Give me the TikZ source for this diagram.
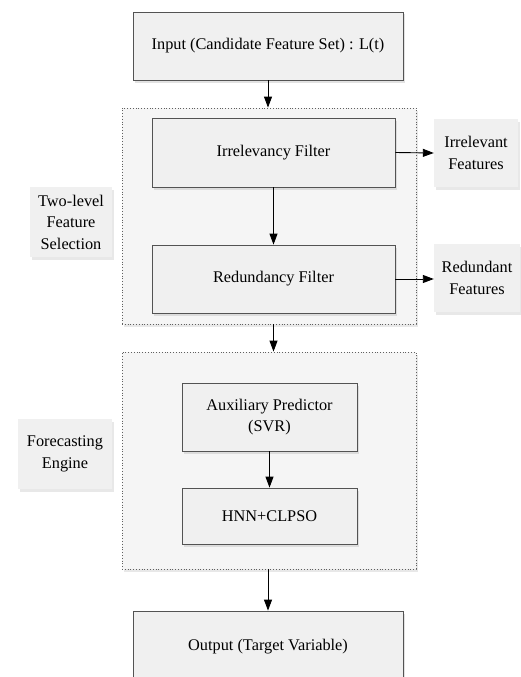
\documentclass[tikz,border=0pt]{standalone}
\usepackage{fontspec}
\setmainfont{Liberation Serif}
\usetikzlibrary{arrows.meta,shadows,positioning,calc}
\tikzset{
  boxstyle/.style={draw=gray!65!black, line width=0.8pt, fill=gray!12, inner sep=0pt,
    align=center, font=\fontsize{16.3}{21.5}\selectfont,
    drop shadow={shadow xshift=2pt, shadow yshift=-2.5pt, fill=gray!50, opacity=0.45}},
  sidebox/.style={fill=gray!12, inner sep=0pt, align=center, font=\fontsize{16.3}{21.5}\selectfont,
    drop shadow={shadow xshift=2pt, shadow yshift=-2.5pt, fill=gray!50, opacity=0.35}},
  groupbox/.style={draw=gray!75!black, dotted, line width=0.8pt, fill=gray!8, inner sep=0pt,
    drop shadow={shadow xshift=2pt, shadow yshift=-2.5pt, fill=gray!50, opacity=0.35}},
  arr/.style={-{Triangle[length=11pt,width=8pt]}, line width=0.9pt, black},
}
\begin{document}
\begin{tikzpicture}[x=1pt,y=-1pt]
\clip (0,0) rectangle (521,677);
\fill[white] (0,0) rectangle (521,677);
% groups
\node[groupbox, minimum width=294pt, minimum height=216pt] (g1) at (269,216) {};
\node[groupbox, minimum width=294pt, minimum height=217pt] (g2) at (269,460.5) {};
% main boxes
\node[boxstyle, minimum width=270pt, minimum height=68pt] (input) at (268,46) {Input (Candidate Feature Set) : L(t)};
\node[boxstyle, minimum width=243pt, minimum height=69pt] (irr) at (273.5,152.5) {Irrelevancy Filter};
\node[boxstyle, minimum width=243pt, minimum height=68pt] (red) at (273.5,279) {Redundancy Filter};
\node[boxstyle, minimum width=175pt, minimum height=68pt] (aux) at (269.5,417) {Auxiliary Predictor\\(SVR)};
\node[boxstyle, minimum width=175pt, minimum height=56pt] (hnn) at (269.5,516) {HNN+CLPSO};
\node[boxstyle, minimum width=270pt, minimum height=72pt] (out) at (268,647) {Output (Target Variable)};
% side boxes
\node[sidebox, minimum width=84pt, minimum height=68pt] (irrf) at (476,153) {Irrelevant\\Features};
\node[sidebox, minimum width=86pt, minimum height=68pt] (redf) at (477,278) {Redundant\\Features};
\node[sidebox, minimum width=82pt, minimum height=70pt] (two) at (71,222) {Two-level\\Feature\\Selection};
\node[sidebox, minimum width=94pt, minimum height=70pt] (fore) at (65,454) {Forecasting\\Engine};
% arrows
\draw[arr] (input.south) -- (input.south |- g1.north);
\draw[arr] (irr.south) -- (red.north);
\draw[arr] (red.south |- g1.south) -- (red.south |- g2.north);
\draw[arr] (aux.south) -- (hnn.north);
\draw[arr] (out.north |- g2.south) -- (out.north);
\draw[arr] (irr.east) -- (irrf.west);
\draw[arr] (red.east) -- (redf.west |- red.east);
\end{tikzpicture}
\end{document}
